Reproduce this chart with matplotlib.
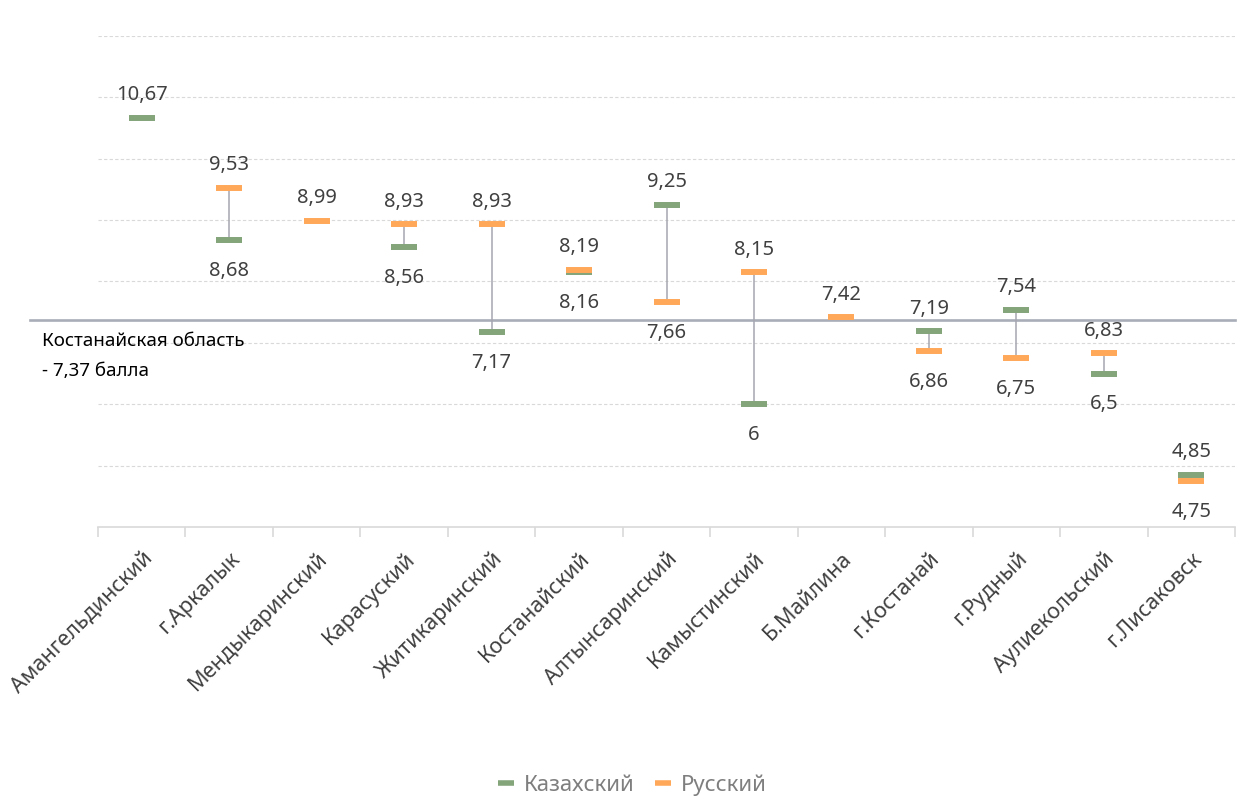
import numpy as np
import matplotlib
matplotlib.use("Agg")
import matplotlib.pyplot as plt
from matplotlib.lines import Line2D
import matplotlib.transforms as mtransforms

plt.rcParams['font.family'] = ['Noto Sans', 'DejaVu Sans']

categories = ["Амангельдинский", "г.Аркалык", "Мендыкаринский", "Карасуский",
              "Житикаринский", "Костанайский", "Алтынсаринский", "Камыстинский",
              "Б.Майлина", "г.Костанай", "г.Рудный", "Аулиекольский", "г.Лисаковск"]
kazakh = [10.67, 8.68, np.nan, 8.56, 7.17, 8.16, 9.25, 6.00, np.nan, 7.19, 7.54, 6.50, 4.85]
russian = [np.nan, 9.53, 8.99, 8.93, 8.93, 8.19, 7.66, 8.15, 7.42, 6.86, 6.75, 6.83, 4.75]
region_avg = 7.37
region_text = "Костанайская область\n- 7,37 балла"

GREEN = "#84A57A"
ORANGE = "#FFA85A"
LABEL = "#404040"

fig = plt.figure(figsize=(12.37, 8.11), dpi=100)
ax = fig.add_axes([98/1237, 1 - 527/811, (1235-98)/1237, (527-36)/811])

x = np.arange(len(categories))
ax.set_xlim(-0.5, len(categories) - 0.5)
ax.set_ylim(4, 12)

# gridlines
for v in range(5, 13):
    ax.axhline(v, color="#D9D9D9", lw=0.8, ls=(0, (3, 2)), zorder=0)

def fmt(v):
    s = ("%.2f" % v).rstrip("0").rstrip(".")
    return s.replace(".", ",")

k = np.array(kazakh, dtype=float)
r = np.array(russian, dtype=float)

# connectors
for xi, a, b in zip(x, k, r):
    if not (np.isnan(a) or np.isnan(b)):
        ax.plot([xi, xi], [min(a, b), max(a, b)], color="#A6A6B0", lw=1.1, zorder=2)

ax.plot(x, k, ls="none", marker="_", markersize=18.7, mew=4.3, color=GREEN, zorder=3)
ax.plot(x, r, ls="none", marker="_", markersize=18.7, mew=4.3, color=ORANGE, zorder=4)

# labels
LFS = 14.5
for xi, a, b in zip(x, k, r):
    vals = [v for v in (a, b) if not np.isnan(v)]
    if len(vals) == 1:
        ax.annotate(fmt(vals[0]), (xi, vals[0]), xytext=(0, 9), textcoords="offset points",
                    ha="center", va="bottom", fontsize=LFS, color=LABEL)
    else:
        hi, lo = max(vals), min(vals)
        ax.annotate(fmt(hi), (xi, hi), xytext=(0, 9), textcoords="offset points",
                    ha="center", va="bottom", fontsize=LFS, color=LABEL)
        ax.annotate(fmt(lo), (xi, lo), xytext=(0, -15), textcoords="offset points",
                    ha="center", va="top", fontsize=LFS, color=LABEL)

# region average line
trans = mtransforms.blended_transform_factory(ax.transAxes, ax.transData)
ax.plot([-0.06, 1.0], [region_avg, region_avg], transform=trans, color="#A8ADB8",
        lw=1.9, clip_on=False, zorder=1)
fig.text(42/1237, 1 - 356/811, region_text, ha="left", va="center", fontsize=13.5,
         color="black", linespacing=1.8)

# axes styling
for s in ["top", "right", "left"]:
    ax.spines[s].set_visible(False)
ax.spines["bottom"].set_color("#D9D9D9")
ax.spines["bottom"].set_linewidth(1.2)
ax.set_yticks([])
ax.set_xticks(x)
ax.set_xticklabels(categories, rotation=45, ha="right", rotation_mode="anchor",
                   fontsize=15.5, color=LABEL)
ax.tick_params(axis="x", which="major", length=0, pad=15)
ax.set_xticks(np.arange(-0.5, len(categories), 1.0), minor=True)
ax.tick_params(axis="x", which="minor", length=7, width=1.2, color="#D9D9D9")

handles = [Line2D([], [], ls="none", marker="_", markersize=12, mew=4, color=GREEN),
           Line2D([], [], ls="none", marker="_", markersize=12, mew=4, color=ORANGE)]
fig.legend(handles, ["Казахский", "Русский"], loc="center", bbox_to_anchor=(0.51, 1 - 785/811),
           ncol=2, frameon=False, fontsize=16, labelcolor="#7F7F7F",
           handlelength=1.0, handletextpad=0.3, columnspacing=0.8)

fig.savefig("out.png", dpi=100)
